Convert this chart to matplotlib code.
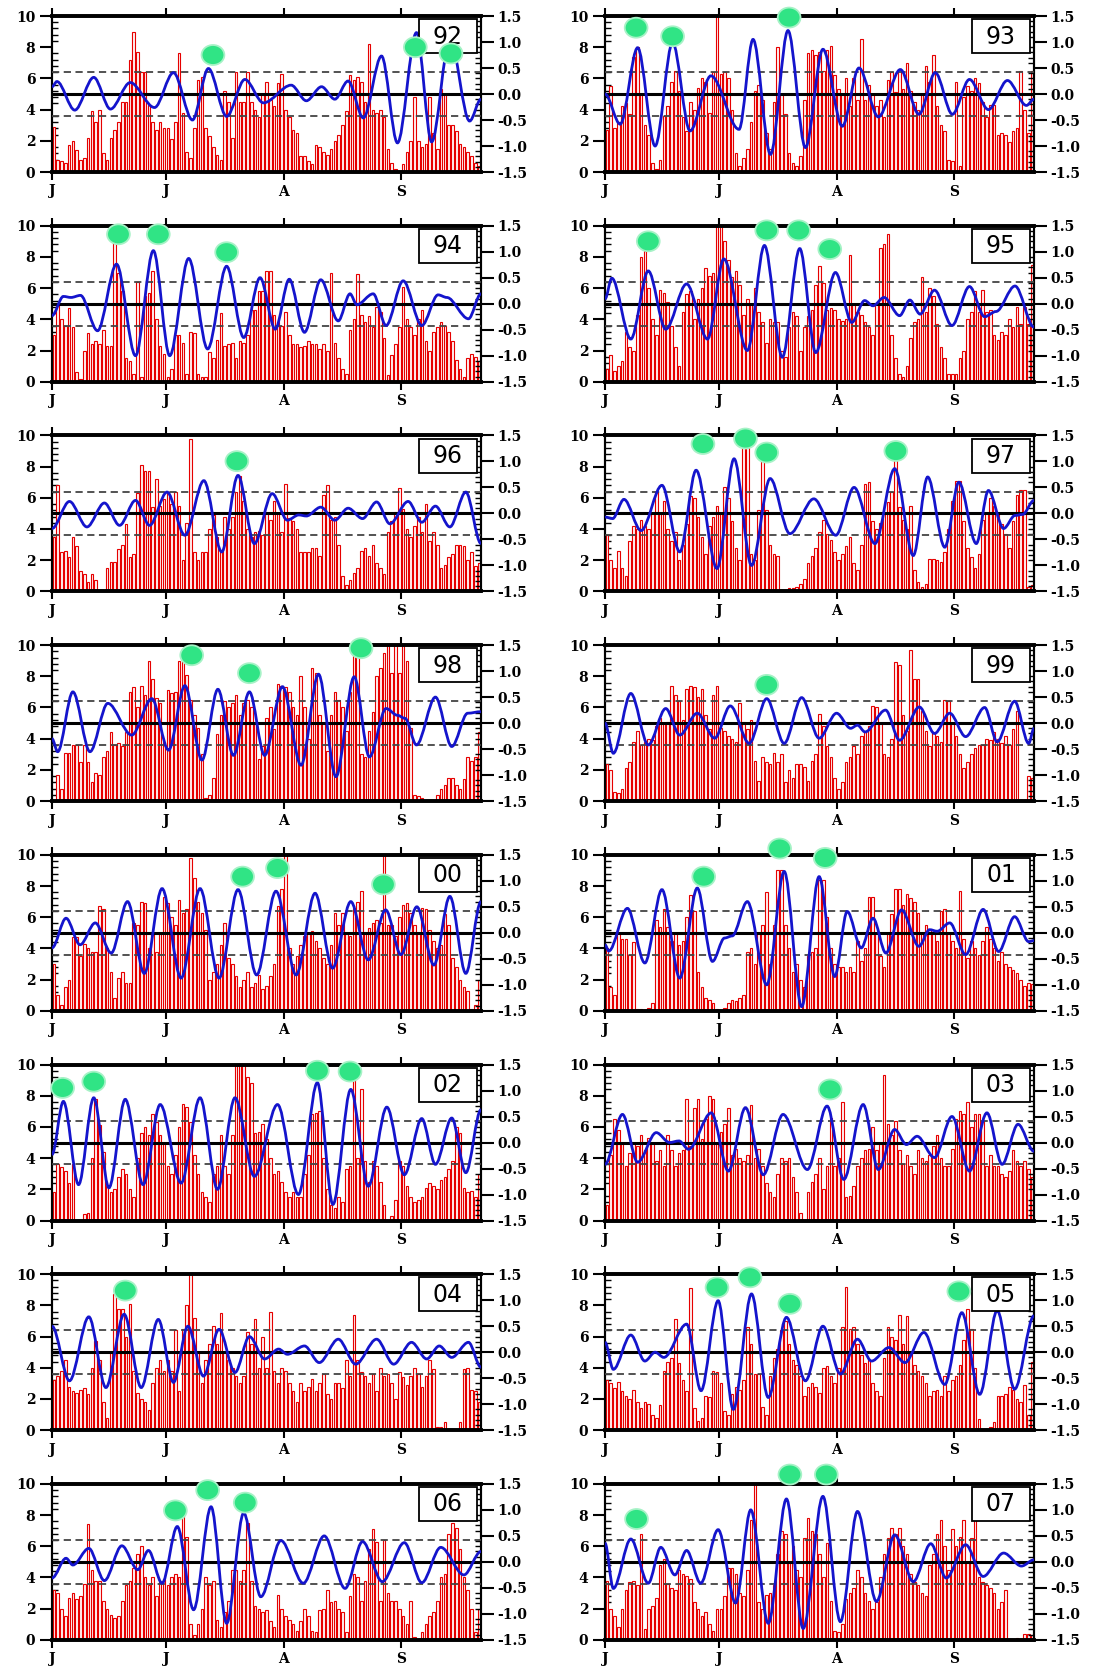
import numpy as np
import matplotlib.pyplot as plt
from matplotlib.path import Path
from matplotlib.patches import PathPatch, Ellipse, Rectangle
from matplotlib.ticker import MultipleLocator

plt.rcParams['font.family'] = 'DejaVu Serif'
plt.rcParams['font.weight'] = 'bold'
plt.rcParams['axes.unicode_minus'] = False

# daily rainfall (June 1 onwards), left axis
rain_92 = [2.9, 0.8, 0.7, 0.6, 1.7, 2.0, 1.4, 0.8, 0.9, 2.2,
           3.9, 3.2, 4.0, 1.2, 0.8, 2.2, 2.7, 3.2, 4.5, 4.5,
           7.2, 9.0, 7.7, 6.4, 6.4, 4.3, 3.2, 2.7, 3.2, 2.8,
           2.8, 2.1, 3.2, 7.6, 3.8, 1.3, 0.9, 2.8, 5.9, 6.1,
           2.8, 2.3, 1.6, 1.1, 0.8, 5.2, 4.5, 2.2, 6.4, 4.5,
           4.5, 6.4, 4.5, 4.0, 3.5, 5.0, 5.8, 4.6, 4.2, 5.7,
           6.3, 4.0, 3.5, 2.7, 2.5, 1.0, 1.0, 0.7, 0.5, 1.7,
           1.6, 1.3, 1.1, 1.5, 2.0, 2.4, 3.0, 3.9, 6.2, 5.9,
           6.1, 5.8, 4.5, 8.2, 4.0, 3.8, 4.0, 3.5, 1.5, 0.6,
           0.2, 0.0, 0.5, 1.3, 2.0, 4.8, 2.0, 1.6, 1.8, 4.8,
           2.5, 1.5, 5.3, 5.0, 3.0, 3.0, 2.6, 1.8, 1.6, 1.3,
           1.0, 0.6, 0.4]
rain_93 = [2.7, 5.5, 2.8, 3.2, 4.2, 4.4, 3.7, 7.4, 8.0, 5.0,
           3.0, 2.4, 0.6, 0.2, 0.8, 3.6, 4.2, 5.8, 6.5, 5.2,
           3.5, 2.6, 4.5, 4.0, 5.4, 6.0, 5.8, 3.8, 6.4, 10.0,
           6.3, 6.4, 6.0, 4.0, 1.2, 0.4, 0.9, 1.5, 3.2, 5.2,
           5.6, 4.6, 2.5, 1.5, 4.5, 8.0, 5.0, 3.7, 1.2, 0.6,
           0.4, 1.0, 4.6, 7.6, 7.8, 7.5, 7.7, 6.5, 7.8, 8.1,
           6.2, 5.3, 5.0, 6.0, 4.2, 6.0, 4.6, 8.5, 4.6, 5.6,
           5.0, 4.2, 4.6, 3.5, 5.9, 6.4, 5.1, 6.6, 5.3, 7.0,
           5.2, 4.5, 4.0, 5.0, 6.8, 5.8, 7.5, 4.2, 3.0, 2.6,
           0.8, 0.7, 5.8, 0.4, 4.8, 5.5, 5.2, 6.0, 5.7, 4.5,
           3.5, 4.3, 4.3, 2.4, 2.5, 2.4, 1.9, 2.6, 2.8, 6.5,
           4.0, 2.5, 6.5]
rain_94 = [3.0, 5.0, 4.0, 3.6, 4.7, 3.5, 0.6, 0.2, 2.0, 3.1,
           2.4, 2.6, 2.4, 3.3, 2.3, 2.3, 9.2, 7.0, 5.8, 1.5,
           1.3, 0.5, 6.4, 0.3, 5.5, 5.7, 7.1, 4.0, 2.3, 1.8,
           0.3, 0.8, 3.0, 3.0, 2.5, 0.5, 3.2, 3.1, 0.5, 0.3,
           0.3, 1.9, 1.5, 2.7, 4.4, 2.3, 2.4, 2.5, 1.5, 2.6,
           2.5, 3.0, 4.6, 4.6, 5.8, 5.8, 7.1, 7.1, 4.3, 3.8,
           3.6, 4.5, 3.0, 2.4, 2.4, 2.2, 2.3, 2.6, 2.4, 2.4,
           2.1, 2.4, 2.0, 7.0, 2.5, 1.5, 0.8, 0.5, 3.3, 4.0,
           6.9, 4.3, 3.8, 4.2, 3.5, 4.8, 4.5, 2.8, 0.4, 1.7,
           2.4, 3.5, 6.1, 4.0, 3.5, 3.0, 4.0, 4.6, 2.6, 2.0,
           3.2, 3.5, 3.8, 3.6, 3.2, 2.6, 1.4, 0.8, 0.3, 1.5,
           1.8, 1.6, 1.3]
rain_95 = [0.8, 1.7, 0.7, 1.0, 1.3, 3.2, 2.2, 2.0, 4.3, 8.0,
           8.4, 6.0, 4.0, 3.0, 5.9, 5.7, 5.1, 3.6, 2.2, 1.0,
           4.5, 5.6, 5.8, 4.0, 5.3, 6.0, 7.3, 6.8, 7.0, 10.0,
           10.0, 9.0, 7.8, 6.7, 7.1, 6.2, 4.3, 5.3, 5.0, 6.0,
           4.5, 3.8, 2.5, 4.0, 3.8, 3.8, 2.0, 1.6, 3.5, 4.5,
           4.2, 2.0, 3.5, 4.2, 4.6, 6.2, 7.4, 6.3, 4.6, 4.7,
           4.6, 4.0, 3.9, 4.0, 8.1, 5.0, 4.5, 4.3, 3.8, 3.5,
           3.0, 5.0, 8.6, 8.8, 9.5, 3.0, 1.5, 0.5, 0.3, 1.0,
           2.8, 3.8, 4.0, 6.7, 4.5, 6.0, 5.5, 3.7, 2.2, 1.5,
           0.5, 0.5, 0.5, 1.5, 2.0, 4.0, 4.5, 5.8, 4.5, 5.9,
           4.5, 4.6, 3.0, 2.7, 3.2, 3.0, 4.0, 3.5, 4.8, 3.7,
           4.8, 3.7, 7.5]
rain_96 = [3.5, 6.8, 2.5, 2.6, 2.2, 3.5, 2.9, 1.3, 1.1, 0.6,
           1.1, 0.7, 0.0, 0.0, 1.5, 1.9, 1.9, 2.7, 3.0, 4.3,
           2.2, 2.4, 6.3, 8.1, 7.7, 7.7, 5.4, 7.2, 5.5, 5.9,
           6.4, 5.6, 6.4, 5.5, 2.0, 4.4, 9.8, 2.5, 2.0, 2.5,
           2.5, 4.0, 4.9, 3.5, 2.5, 4.8, 4.0, 4.8, 6.4, 7.4,
           5.8, 4.0, 3.5, 3.8, 3.9, 3.6, 5.0, 4.6, 5.8, 5.0,
           3.8, 6.9, 4.7, 4.5, 4.0, 2.5, 2.5, 2.5, 2.8, 2.8,
           2.3, 6.2, 6.8, 4.6, 4.8, 3.0, 1.0, 0.4, 0.7, 1.2,
           1.5, 2.6, 2.8, 2.3, 3.0, 1.8, 1.5, 1.1, 3.8, 4.5,
           5.1, 6.6, 5.3, 4.0, 3.5, 4.2, 4.8, 3.8, 5.6, 3.2,
           3.8, 3.0, 1.5, 1.7, 2.2, 2.4, 3.0, 3.0, 2.9, 2.0,
           2.5, 1.6, 1.8]
rain_97 = [3.6, 2.0, 1.5, 2.6, 1.5, 1.0, 3.2, 4.2, 4.0, 4.6,
           4.2, 4.0, 5.0, 6.4, 5.0, 5.8, 4.0, 3.2, 3.8, 2.0,
           3.0, 4.3, 6.1, 6.0, 4.8, 3.5, 2.4, 4.2, 4.8, 5.5,
           5.0, 6.7, 6.0, 4.5, 2.8, 2.0, 10.0, 9.6, 2.4, 2.0,
           5.2, 8.6, 5.2, 3.0, 2.4, 2.3, 0.1, 0.1, 0.2, 0.2,
           0.3, 0.5, 0.8, 1.8, 2.3, 2.8, 3.8, 4.6, 3.7, 3.3,
           2.5, 2.0, 2.4, 2.9, 3.5, 1.8, 1.4, 3.0, 6.9, 7.0,
           4.5, 4.0, 4.4, 5.0, 5.7, 6.4, 8.5, 5.4, 4.6, 4.0,
           5.5, 1.4, 0.6, 0.3, 0.5, 2.1, 2.1, 2.0, 1.9, 2.5,
           4.0, 5.8, 7.1, 7.1, 4.5, 2.8, 2.2, 1.5, 2.4, 4.6,
           5.0, 6.0, 5.5, 5.0, 4.3, 3.7, 2.8, 4.5, 6.2, 6.5,
           6.5, 0.3, 0.4]
rain_98 = [0.1, 1.7, 0.8, 3.1, 3.1, 3.6, 3.6, 2.5, 3.6, 2.5,
           1.2, 1.8, 1.7, 2.8, 3.2, 4.4, 3.6, 3.7, 3.5, 4.4,
           7.0, 7.3, 6.0, 7.4, 6.8, 9.0, 7.8, 6.6, 6.3, 3.8,
           7.1, 6.9, 7.0, 9.0, 9.0, 8.1, 6.5, 5.5, 4.7, 3.0,
           0.2, 0.4, 1.5, 4.3, 5.5, 6.4, 6.0, 6.3, 6.8, 5.5,
           6.3, 6.5, 6.0, 5.0, 2.7, 3.5, 5.3, 6.0, 4.6, 7.5,
           7.4, 7.3, 7.0, 6.0, 5.5, 8.0, 6.0, 4.0, 8.5, 8.2,
           5.5, 5.0, 3.2, 5.5, 7.0, 6.5, 6.0, 4.5, 7.0, 10.0,
           9.5, 3.0, 2.8, 4.5, 5.7, 8.0, 8.5, 9.5, 10.0, 8.2,
           10.0, 8.2, 10.0, 9.0, 4.7, 0.4, 0.3, 0.2, 0.1, 0.1,
           0.1, 0.4, 0.8, 1.0, 1.5, 1.5, 1.0, 0.8, 1.4, 2.8,
           2.6, 2.8, 4.4]
rain_99 = [2.4, 2.0, 0.6, 0.5, 0.8, 2.1, 2.5, 3.8, 4.5, 3.6,
           3.8, 4.0, 3.9, 4.8, 5.3, 5.0, 5.1, 7.4, 6.8, 6.4,
           5.2, 7.2, 7.4, 7.3, 6.7, 7.2, 5.5, 4.6, 6.8, 7.4,
           4.7, 4.5, 4.2, 4.0, 3.8, 6.3, 5.1, 4.6, 5.2, 2.6,
           1.3, 2.8, 2.5, 2.4, 3.1, 2.5, 3.0, 1.2, 2.0, 1.5,
           2.4, 2.4, 2.2, 1.3, 2.6, 3.0, 5.6, 4.8, 3.5, 2.8,
           1.5, 0.8, 1.2, 2.5, 2.8, 3.5, 3.0, 4.2, 4.4, 4.8,
           6.1, 6.0, 5.0, 3.0, 2.8, 4.0, 8.9, 8.7, 5.5, 4.5,
           9.7, 7.8, 7.8, 5.8, 4.5, 3.5, 4.4, 4.2, 3.8, 6.5,
           6.4, 5.0, 4.2, 3.0, 2.1, 2.5, 3.0, 3.4, 3.6, 3.6,
           4.0, 3.9, 4.4, 4.0, 3.7, 4.2, 3.6, 4.6, 5.8, 0.1,
           0.1, 1.6, 1.5]
rain_00 = [3.0, 1.0, 0.4, 1.5, 2.0, 4.7, 4.7, 3.5, 4.3, 4.0,
           3.8, 3.8, 6.7, 6.5, 4.0, 2.5, 0.8, 2.1, 2.5, 1.8,
           1.8, 5.6, 5.5, 7.0, 6.9, 4.0, 5.0, 3.8, 5.0, 7.3,
           6.9, 6.0, 5.5, 7.1, 6.3, 6.5, 9.8, 8.5, 7.0, 6.3,
           5.2, 2.0, 2.5, 3.0, 4.2, 5.6, 3.4, 3.0, 2.2, 1.5,
           2.0, 2.5, 1.5, 1.8, 2.3, 1.4, 1.6, 2.2, 3.0, 6.7,
           7.8, 10.0, 4.0, 3.0, 3.5, 4.2, 4.8, 5.0, 5.1, 4.5,
           4.0, 3.4, 3.0, 4.2, 6.3, 5.5, 6.3, 5.0, 4.8, 6.6,
           7.0, 7.7, 5.0, 5.3, 5.6, 5.8, 5.6, 10.0, 5.5, 5.5,
           4.8, 6.0, 6.8, 6.9, 6.3, 5.5, 5.0, 6.6, 6.5, 5.2,
           4.5, 4.0, 4.2, 6.2, 5.5, 3.4, 2.8, 2.0, 1.5, 1.3,
           0.1, 0.4, 2.0]
rain_01 = [4.0, 1.5, 1.0, 5.0, 4.6, 4.6, 3.6, 4.4, 0.1, 0.1,
           0.0, 0.2, 0.5, 5.8, 5.4, 6.5, 5.4, 4.5, 5.0, 4.2,
           4.5, 6.0, 7.4, 6.4, 2.5, 1.5, 0.8, 0.7, 0.5, 0.1,
           0.0, 0.2, 0.5, 0.7, 0.6, 0.8, 1.0, 3.8, 4.0, 3.0,
           5.0, 5.5, 7.6, 3.0, 5.5, 9.0, 9.0, 5.5, 4.0, 2.5,
           3.0, 2.0, 1.5, 3.5, 3.8, 4.0, 8.4, 8.4, 6.0, 4.0,
           3.0, 2.8, 2.8, 2.5, 2.8, 2.5, 4.5, 3.2, 4.0, 7.3,
           7.3, 5.0, 3.5, 2.8, 5.0, 6.2, 7.8, 7.8, 6.8, 7.5,
           7.2, 7.0, 6.3, 5.0, 5.5, 5.2, 5.0, 4.5, 6.4, 6.5,
           5.0, 4.5, 4.0, 7.7, 4.6, 3.4, 4.5, 4.0, 3.6, 4.5,
           5.4, 4.6, 4.0, 3.2, 3.8, 3.0, 2.8, 2.6, 2.4, 2.0,
           1.6, 1.8, 1.7]
rain_02 = [1.8, 3.6, 3.4, 3.2, 2.4, 3.6, 0.0, 0.0, 0.4, 0.5,
           4.0, 7.8, 6.1, 4.4, 2.2, 1.8, 2.0, 2.8, 3.3, 3.0,
           2.0, 1.5, 4.0, 5.6, 6.0, 5.5, 6.8, 6.3, 5.5, 5.0,
           3.5, 3.0, 4.2, 6.0, 7.5, 7.3, 6.3, 4.2, 3.0, 1.8,
           1.5, 1.2, 3.0, 3.5, 5.5, 3.5, 3.0, 5.5, 10.0, 10.0,
           10.0, 9.2, 8.8, 5.6, 5.7, 6.2, 5.2, 4.0, 3.0, 3.2,
           2.5, 1.8, 1.5, 1.8, 1.5, 1.5, 3.0, 4.2, 6.8, 6.9,
           7.0, 4.0, 2.0, 1.0, 0.8, 1.5, 1.2, 3.3, 3.5, 9.0,
           4.0, 8.4, 3.8, 2.5, 3.8, 3.5, 2.5, 1.0, 0.0, 0.3,
           1.3, 3.8, 3.5, 2.2, 1.5, 1.2, 1.3, 1.5, 2.1, 2.4,
           2.2, 2.0, 2.6, 2.8, 3.3, 3.8, 6.0, 5.6, 2.1, 1.8,
           1.9, 1.5, 3.0]
rain_03 = [1.0, 4.2, 6.5, 5.8, 5.0, 3.5, 4.3, 5.0, 4.8, 5.5,
           4.5, 5.3, 5.0, 3.8, 4.5, 3.5, 5.5, 4.5, 3.5, 4.3,
           4.5, 7.8, 4.8, 7.2, 7.8, 5.2, 6.5, 8.0, 7.8, 5.0,
           5.7, 6.2, 7.2, 4.2, 4.6, 4.0, 3.8, 4.2, 7.4, 4.0,
           4.6, 3.5, 2.4, 1.8, 1.5, 3.0, 4.0, 3.8, 4.0, 2.8,
           1.8, 0.5, 0.0, 1.8, 2.5, 3.0, 4.0, 2.0, 3.5, 6.6,
           3.5, 4.0, 7.6, 1.5, 1.6, 2.2, 3.5, 4.0, 4.5, 4.6,
           6.0, 4.5, 5.0, 9.3, 6.2, 5.5, 6.4, 4.5, 3.6, 4.2,
           3.5, 3.0, 4.5, 4.0, 3.8, 4.2, 4.8, 5.5, 4.0, 3.5,
           3.5, 4.6, 6.5, 7.0, 6.8, 7.6, 6.0, 6.8, 6.8, 6.4,
           3.5, 4.2, 3.5, 3.5, 3.0, 2.8, 3.2, 4.5, 3.8, 3.5,
           3.8, 3.3, 2.8]
rain_04 = [3.2, 3.5, 3.8, 4.5, 2.8, 2.5, 2.4, 2.6, 2.7, 2.3,
           4.0, 5.7, 4.5, 1.8, 0.8, 5.0, 8.7, 7.8, 7.8, 6.0,
           8.1, 3.8, 2.4, 2.0, 1.8, 1.3, 3.0, 4.0, 4.5, 3.8,
           4.5, 3.8, 6.4, 2.5, 6.5, 8.0, 10.0, 7.2, 5.0, 3.0,
           4.5, 5.5, 6.7, 5.5, 7.5, 5.0, 4.5, 4.0, 3.5, 3.0,
           3.5, 6.3, 5.5, 7.1, 4.0, 6.0, 4.0, 7.6, 3.8, 3.0,
           4.0, 3.8, 3.0, 2.5, 1.8, 3.0, 2.5, 2.8, 3.3, 2.5,
           3.0, 3.6, 2.3, 2.0, 3.0, 3.0, 2.7, 4.5, 3.5, 7.4,
           4.5, 3.7, 3.5, 3.0, 3.6, 2.5, 4.0, 3.5, 3.6, 3.0,
           2.0, 3.7, 3.4, 2.9, 3.5, 4.0, 3.6, 2.8, 3.5, 4.5,
           3.9, 0.2, 0.2, 0.5, 0.0, 0.0, 0.0, 0.5, 3.9, 4.0,
           2.6, 2.5, 1.8]
rain_05 = [3.2, 3.0, 2.7, 3.1, 2.5, 2.2, 2.0, 2.6, 1.8, 1.4,
           1.8, 1.7, 1.0, 0.8, 1.6, 3.8, 4.4, 4.6, 7.1, 4.3,
           3.2, 2.5, 9.1, 1.4, 0.6, 0.8, 2.2, 2.1, 3.8, 3.7,
           3.0, 1.2, 1.0, 2.3, 2.8, 2.6, 3.2, 6.6, 5.5, 3.6,
           3.6, 1.5, 1.0, 3.5, 4.6, 5.2, 6.4, 7.0, 5.5, 4.5,
           4.2, 3.5, 2.2, 2.8, 3.0, 2.8, 2.4, 4.0, 4.1, 3.5,
           3.0, 4.0, 6.6, 9.2, 6.5, 6.6, 5.5, 4.8, 4.3, 4.5,
           3.0, 2.5, 2.2, 4.6, 6.6, 6.0, 5.8, 7.4, 5.5, 7.3,
           5.0, 4.2, 3.8, 3.5, 3.0, 2.2, 2.5, 2.6, 2.2, 3.5,
           2.5, 3.2, 3.5, 4.2, 5.8, 7.8, 6.5, 4.0, 0.7, 0.0,
           0.0, 0.2, 0.5, 2.2, 2.2, 2.3, 2.8, 2.6, 2.0, 1.8,
           2.9, 1.0, 4.4]
rain_06 = [3.2, 3.0, 2.0, 1.5, 2.7, 3.0, 2.6, 2.8, 3.6, 7.4,
           4.5, 3.8, 3.8, 2.5, 2.0, 1.6, 1.4, 1.5, 2.5, 3.5,
           3.8, 4.6, 5.5, 6.0, 4.0, 3.5, 4.0, 2.8, 3.7, 3.9,
           3.5, 4.0, 4.2, 4.0, 8.1, 6.6, 1.0, 0.3, 1.0, 2.0,
           4.0, 3.5, 3.8, 1.3, 0.8, 1.8, 2.5, 4.5, 4.5, 3.8,
           4.5, 7.5, 3.8, 2.2, 2.0, 1.8, 1.9, 1.2, 0.8, 2.9,
           2.0, 1.5, 1.3, 1.0, 0.6, 1.2, 2.0, 1.5, 0.6, 0.5,
           1.9, 2.0, 3.2, 2.4, 2.5, 2.0, 1.8, 0.5, 2.8, 4.2,
           4.0, 2.5, 3.8, 5.8, 7.1, 6.3, 2.5, 6.4, 3.0, 2.5,
           2.5, 2.0, 1.5, 1.0, 2.5, 0.2, 0.0, 0.5, 1.0, 1.5,
           1.8, 2.5, 4.0, 4.2, 6.8, 7.5, 7.2, 5.8, 4.0, 3.2,
           2.0, 0.5, 2.0]
rain_07 = [3.8, 2.0, 1.5, 0.8, 2.0, 3.2, 3.7, 3.8, 3.5, 6.8,
           0.7, 2.0, 2.2, 2.7, 4.8, 5.2, 3.6, 3.3, 3.2, 4.5,
           4.2, 4.1, 3.9, 2.4, 2.0, 1.5, 1.8, 1.0, 0.6, 2.0,
           2.0, 2.8, 4.6, 4.6, 4.2, 3.0, 2.8, 4.5, 7.7, 10.0,
           2.4, 2.0, 2.9, 3.0, 3.5, 5.5, 7.0, 6.8, 5.0, 6.0,
           4.5, 4.0, 6.5, 7.8, 7.0, 6.8, 5.5, 4.0, 6.2, 2.5,
           0.6, 0.5, 1.0, 2.6, 3.0, 3.3, 4.5, 4.0, 3.0, 2.5,
           2.0, 2.4, 4.0, 5.5, 6.5, 7.2, 6.8, 7.2, 6.0, 5.5,
           4.2, 3.7, 3.5, 3.0, 2.8, 4.8, 5.5, 6.8, 7.7, 6.0,
           4.5, 7.1, 6.0, 6.6, 7.7, 5.0, 6.5, 8.0, 4.0, 3.7,
           3.5, 3.3, 3.0, 2.0, 2.4, 3.2, 0.0, 0.0, 0.1, 0.0,
           0.4, 0.4, 0.3]

# filtered oscillation (right axis): turning points, day and value
wx_92 = [0, 1.3, 6, 11, 15.4, 20.6, 27, 32, 37, 41.2, 46, 50.8, 55.7, 63, 67, 71, 74.5, 78, 82, 86.8, 91, 96, 100, 104.8, 110, 113]
wy_92 = [0.14, 0.24, -0.31, 0.32, -0.29, 0.22, -0.26, 0.41, -0.5, 0.49, -0.43, 0.28, -0.17, 0.17, -0.13, 0.14, -0.1, 0.25, -0.46, 0.73, -0.94, 1.18, -0.92, 1.05, -0.52, -0.1]
wx_93 = [0, 4, 8.6, 13.2, 17.8, 22.4, 27.9, 35.3, 39, 43.6, 48.2, 52.8, 57.4, 62.5, 66.9, 72, 77.8, 82.7, 87, 91.5, 96, 101, 106, 111, 113]
wy_93 = [0.0, -0.58, 0.89, -1.0, 0.99, -0.71, 0.35, -0.68, 1.05, -1.16, 1.22, -1.03, 0.86, -0.62, 0.5, -0.44, 0.47, -0.39, 0.41, -0.39, 0.28, -0.3, 0.26, -0.22, -0.1]
wx_94 = [0, 3, 5, 7.5, 12, 17, 22, 26.7, 31, 36, 41, 46, 50.5, 54.8, 58.8, 62.5, 66.5, 70.8, 75.4, 78.5, 80.3, 84.6, 88, 92.5, 97.4, 101.7, 104, 109.7, 113]
wy_94 = [-0.23, 0.14, 0.12, 0.16, -0.52, 0.76, -1.0, 1.02, -1.0, 0.87, -0.87, 0.72, -0.65, 0.5, -0.49, 0.47, -0.55, 0.46, -0.33, 0.19, -0.02, 0.19, -0.42, 0.44, -0.42, 0.17, 0.12, -0.29, 0.19]
wx_95 = [0, 1.8, 6.8, 11.4, 16, 21.5, 27, 31.3, 37.5, 42, 46.7, 51.3, 55.5, 60.7, 65, 68.4, 70.6, 73.5, 77.6, 80.3, 83, 86.8, 91.4, 96, 100, 103, 108, 113]
wy_95 = [0.09, 0.49, -0.68, 0.63, -0.49, 0.38, -0.68, 0.86, -0.9, 1.12, -1.03, 1.06, -0.94, 0.6, -0.36, 0.06, -0.04, 0.12, -0.23, 0.07, -0.2, 0.26, -0.42, 0.33, -0.25, -0.15, 0.34, -0.45]
wx_96 = [0, 4.6, 9.2, 13.8, 17.8, 22, 25.7, 30.3, 35, 40, 44.7, 49, 53.3, 58, 62, 65, 67, 70.8, 74.5, 78, 81.8, 85.5, 89, 93.8, 97.4, 101, 104.8, 109, 113]
wy_96 = [-0.29, 0.23, -0.26, 0.2, -0.23, 0.25, -0.23, 0.41, -0.42, 0.63, -0.74, 0.73, -0.58, 0.38, -0.13, -0.03, -0.05, 0.12, -0.13, 0.1, -0.1, 0.22, -0.2, 0.23, -0.17, 0.14, -0.26, 0.41, -0.58]
wx_97 = [0, 2, 5, 9.5, 15, 19.7, 24, 29.5, 34, 38.6, 43.5, 48.7, 55, 60.8, 65.6, 71.1, 76.3, 81.2, 85, 89.5, 93.2, 97.8, 101, 105, 108, 110, 113]
wy_97 = [-0.07, -0.1, 0.27, -0.33, 0.54, -0.74, 0.83, -1.06, 1.05, -1.0, 0.67, -0.39, 0.28, -0.42, 0.5, -0.58, 0.86, -0.81, 0.7, -0.65, 0.6, -0.58, 0.44, -0.29, -0.04, -0.02, 0.25]
wx_98 = [0, 1.5, 5.5, 10, 14.7, 21, 26.3, 30.7, 35, 39.5, 43.7, 47.8, 52, 56, 60.7, 65.6, 70.2, 74.8, 79.6, 83.6, 88, 91, 93, 96, 101, 105.3, 109.5, 113]
wy_98 = [-0.3, -0.55, 0.6, -0.55, 0.38, -0.23, 0.47, -0.52, 0.72, -0.71, 0.65, -0.62, 0.6, -0.62, 0.7, -0.81, 0.94, -1.03, 0.89, -0.65, 0.28, 0.15, 0.09, -0.42, 0.5, -0.45, 0.19, 0.22]
wx_99 = [0, 2.2, 6.8, 11.4, 16, 19.7, 24.3, 28.9, 33, 38, 42.6, 47.2, 51.8, 56.4, 61, 64.7, 66.5, 68.5, 73.9, 77.6, 82.8, 86.8, 90.8, 95, 100, 103.3, 107.9, 111.6, 113]
wy_99 = [0.0, -0.58, 0.57, -0.42, 0.28, -0.23, 0.19, -0.29, 0.33, -0.39, 0.47, -0.39, 0.49, -0.29, 0.19, -0.1, -0.04, -0.17, 0.25, -0.33, 0.31, -0.2, 0.19, -0.26, 0.3, -0.36, 0.42, -0.39, -0.1]
wx_00 = [0, 3.7, 7.4, 11.4, 15.6, 19.9, 24.3, 29, 34, 39, 44, 49, 53.9, 59, 64.3, 69.3, 73.9, 78.7, 83.3, 87.9, 91.9, 96.1, 100.6, 104.8, 109, 113]
wy_00 = [-0.29, 0.28, -0.23, 0.19, -0.39, 0.6, -0.78, 0.85, -0.87, 0.85, -0.87, 0.83, -0.81, 0.8, -0.81, 0.76, -0.68, 0.6, -0.52, 0.44, -0.42, 0.5, -0.62, 0.7, -0.78, 0.6]
wx_01 = [0, 1, 5.9, 10.5, 15, 19.7, 24.3, 28.3, 31.5, 33.5, 37.5, 42.6, 47.2, 51.8, 56.4, 60.5, 63.8, 67.5, 70.6, 74, 78.1, 82.7, 85.5, 87.5, 90.8, 95, 99.6, 103.7, 107.9, 111.6, 113]
wy_01 = [-0.23, -0.35, 0.47, -0.58, 0.83, -0.87, 0.86, -0.55, -0.1, -0.06, 0.6, -1.0, 1.18, -1.42, 1.08, -0.84, 0.41, -0.29, 0.28, -0.39, 0.44, -0.26, 0.06, 0.03, 0.19, -0.42, 0.45, -0.36, 0.31, -0.17, -0.15]
wx_02 = [0, 3, 7, 11, 15, 19.3, 24, 28.5, 34, 39, 43.6, 48.2, 53.3, 59.4, 64.9, 69.9, 74, 78.7, 83.3, 88.2, 92.8, 97.4, 101, 105.3, 109, 113]
wy_02 = [-0.23, 0.79, -0.81, 0.86, -0.87, 0.83, -0.81, 0.73, -0.78, 0.86, -0.9, 0.86, -0.65, 0.73, -1.0, 1.15, -1.19, 1.02, -0.84, 0.68, -0.62, 0.46, -0.42, 0.47, -0.58, 0.63]
wx_03 = [0, 4.6, 8.6, 13.5, 17, 19.5, 22, 28, 32.5, 37, 41.7, 46.9, 53.3, 58.5, 62.9, 68, 72, 76.3, 79.4, 82.2, 86.8, 91.4, 96, 100.6, 104.6, 108.8, 113]
wy_03 = [-0.42, 0.54, -0.38, 0.19, 0.0, 0.03, -0.13, 0.57, -0.55, 0.67, -0.62, 0.54, -0.52, 0.7, -0.71, 0.73, -0.52, 0.25, -0.04, 0.12, -0.29, 0.5, -0.55, 0.57, -0.42, 0.35, -0.17]
wx_04 = [0, 4.6, 9.7, 14.2, 19, 23.5, 28, 32, 35.8, 39.9, 44, 48.2, 52, 56, 59.7, 62, 66.5, 70.4, 75.4, 80, 85.5, 90, 94.7, 98.7, 102, 105.3, 109.7, 113]
wy_04 = [0.5, -0.55, 0.68, -0.68, 0.73, -0.68, 0.63, -0.58, 0.5, -0.46, 0.44, -0.39, 0.3, -0.13, 0.06, -0.04, 0.12, -0.2, 0.25, -0.23, 0.25, -0.23, 0.19, -0.13, 0.12, -0.1, 0.19, -0.29]
wx_05 = [0, 2.2, 6.8, 10.5, 13.2, 15.5, 21.5, 25.3, 29.8, 33.8, 38.6, 43, 47.8, 52.8, 57.4, 62, 66.5, 70.2, 74.8, 79, 84, 89.5, 94, 98.7, 103.3, 107.9, 113]
wy_05 = [0.19, -0.33, 0.33, -0.17, 0.0, -0.1, 0.54, -0.74, 0.99, -1.1, 1.12, -0.87, 0.67, -0.55, 0.5, -0.42, 0.25, -0.17, 0.09, -0.2, 0.38, -0.62, 0.76, -0.81, 0.8, -0.71, 0.7]
wx_06 = [0, 3.7, 5.5, 9.7, 13.8, 18.4, 22.6, 25.4, 29, 33, 37.3, 41.9, 46, 50.5, 55, 60.3, 66.2, 71.7, 77.2, 81.8, 87, 92.8, 97.4, 102.4, 108.5, 113]
wy_06 = [-0.31, 0.07, -0.06, 0.26, -0.36, 0.31, -0.15, 0.22, -0.41, 0.68, -0.92, 1.06, -1.18, 0.94, -0.67, 0.41, -0.41, 0.5, -0.51, 0.39, -0.38, 0.37, -0.4, 0.28, -0.25, 0.2]
wx_07 = [0, 2.2, 6.8, 11.4, 14.7, 18.4, 21.5, 25.2, 29.8, 34.4, 38.4, 43, 47.8, 52.2, 57.4, 62, 66.5, 71.5, 76.3, 81.2, 85.8, 89.9, 95, 99.6, 105, 109.7, 113]
wy_07 = [0.36, -0.51, 0.44, -0.41, 0.28, -0.25, 0.22, -0.41, 0.62, -0.79, 1.0, -1.18, 1.21, -1.28, 1.26, -1.15, 0.97, -0.76, 0.52, -0.38, 0.35, -0.31, 0.33, -0.28, 0.17, -0.08, 0.04]

# green event markers (day, left-axis height)
mx_92 = [42.4, 95.7, 105.1];        my_92 = [7.5, 8.0, 7.6]
mx_93 = [8.2, 17.8, 48.5];          my_93 = [9.25, 8.7, 9.9]
mx_94 = [17.5, 28, 46];             my_94 = [9.45, 9.45, 8.3]
mx_95 = [11.4, 42.6, 51, 59.2];     my_95 = [9.0, 9.7, 9.7, 8.5]
mx_96 = [48.7];                     my_96 = [8.35]
mx_97 = [25.8, 37, 42.6, 76.6];     my_97 = [9.45, 9.8, 8.9, 9.0]
mx_98 = [36.8, 52, 81.4];           my_98 = [9.35, 8.2, 9.8]
mx_99 = [42.6];                     my_99 = [7.45]
mx_00 = [50.2, 59.4, 87.3];         my_00 = [8.6, 9.15, 8.1]
mx_01 = [26, 46, 58];               my_01 = [8.6, 10.4, 9.8]
mx_02 = [2.8, 11, 69.9, 78.5];      my_02 = [8.5, 8.9, 9.6, 9.55]
mx_03 = [59.3];                     my_03 = [8.4]
mx_04 = [19.3];                     my_04 = [8.95]
mx_05 = [29.5, 38.2, 48.7, 93.2];   my_05 = [9.15, 9.8, 8.1, 8.9]
mx_06 = [32.5, 41, 50.9];           my_06 = [8.3, 9.6, 8.8]
mx_07 = [8.3, 48.7, 58.3];          my_07 = [7.75, 10.6, 10.6]

years = ['92', '93', '94', '95', '96', '97', '98', '99',
         '00', '01', '02', '03', '04', '05', '06', '07']
month_days = [0, 30, 61, 92]
month_labels = ['J', 'J', 'A', 'S']
right_ticks = [-1.5, -1.0, -0.5, 0.0, 0.5, 1.0, 1.5]
right_labels = ['-1.5', '-1.0', '-0.5', '0.0', '0.5', '1.0', '1.5']

panels = [
    (rain_92, wx_92, wy_92, mx_92, my_92), (rain_93, wx_93, wy_93, mx_93, my_93),
    (rain_94, wx_94, wy_94, mx_94, my_94), (rain_95, wx_95, wy_95, mx_95, my_95),
    (rain_96, wx_96, wy_96, mx_96, my_96), (rain_97, wx_97, wy_97, mx_97, my_97),
    (rain_98, wx_98, wy_98, mx_98, my_98), (rain_99, wx_99, wy_99, mx_99, my_99),
    (rain_00, wx_00, wy_00, mx_00, my_00), (rain_01, wx_01, wy_01, mx_01, my_01),
    (rain_02, wx_02, wy_02, mx_02, my_02), (rain_03, wx_03, wy_03, mx_03, my_03),
    (rain_04, wx_04, wy_04, mx_04, my_04), (rain_05, wx_05, wy_05, mx_05, my_05),
    (rain_06, wx_06, wy_06, mx_06, my_06), (rain_07, wx_07, wy_07, mx_07, my_07),
]


def wave_path(xs, ys):
    # smooth curve through the turning points, flat at each of them
    verts = [(xs[0], ys[0])]
    codes = [Path.MOVETO]
    for x0, y0, x1, y1 in zip(xs[:-1], ys[:-1], xs[1:], ys[1:]):
        dx = (x1 - x0) / 3.0
        verts += [(x0 + dx, y0), (x1 - dx, y1), (x1, y1)]
        codes += [Path.CURVE4] * 3
    return Path(verts, codes)


W, H = 1094, 1670
fig = plt.figure(figsize=(W / 100, H / 100), dpi=100)

for i, (rain, wx, wy, mx, my) in enumerate(panels):
    row, col = divmod(i, 2)
    left = 52 if col == 0 else 605
    top = 16 + 209.7 * row
    ax = fig.add_axes([left / W, 1 - (top + 156) / H, 429 / W, 156 / H])

    days = np.arange(len(rain)) + 0.5
    ax.bar(days, rain, width=0.68, color='#fff3f3', edgecolor='#e60000',
           linewidth=0.8, zorder=2)
    ax.set_xlim(0, 113)
    ax.set_ylim(0, 10)
    ax.set_xticks(month_days)
    ax.set_xticklabels(month_labels)
    ax.set_yticks(range(0, 11, 2))
    ax.yaxis.set_minor_locator(MultipleLocator(0.4))
    ax.tick_params(axis='x', which='major', direction='out', length=6,
                   width=1.5, top=True, bottom=True, labeltop=False,
                   labelsize=10, pad=3)
    ax.tick_params(axis='y', which='major', direction='out', length=9,
                   width=1.5, labelsize=10, pad=3)
    ax.tick_params(axis='y', which='minor', direction='in', length=4, width=1)

    ax2 = ax.twinx()
    ax2.set_ylim(-1.5, 1.5)
    ax2.set_yticks(right_ticks)
    ax2.set_yticklabels(right_labels)
    ax2.yaxis.set_minor_locator(MultipleLocator(0.1))
    ax2.tick_params(axis='y', which='major', direction='out', length=9,
                    width=1.5, labelsize=10, pad=3)
    ax2.tick_params(axis='y', which='minor', direction='in', length=4, width=1)

    ax2.axhline(0.0, color='black', lw=2.2, zorder=3)
    for lev in (0.42, -0.42):
        ax2.axhline(lev, color='#444444', lw=1.3, ls=(0, (4, 2.5)), zorder=3)

    ax2.add_patch(PathPatch(wave_path(wx, wy), fill=False,
                            edgecolor='#1414cc', lw=2.0, zorder=4))

    # year label in a framed box at the upper right
    ax2.add_patch(Rectangle((0.855, 0.762), 0.136, 0.217,
                            transform=ax2.transAxes, facecolor='white',
                            edgecolor='black', lw=1.3, zorder=8))
    ax2.text(0.923, 0.868, years[i], transform=ax2.transAxes,
             ha='center', va='center', fontsize=17, fontweight='normal',
             family='DejaVu Sans', zorder=9)

    for x0, y0 in zip(mx, my):
        ax2.add_patch(Ellipse((x0, y0), width=6.0, height=1.28,
                              transform=ax.transData, facecolor='#30e485',
                              edgecolor='#a6f2c6', lw=1.3, zorder=11,
                              clip_on=False))

    for a in (ax, ax2):
        a.spines['top'].set_linewidth(2.6)
        a.spines['bottom'].set_linewidth(2.6)
        a.spines['left'].set_linewidth(1.5)
        a.spines['right'].set_linewidth(1.5)

fig.savefig('out.png', dpi=100)
